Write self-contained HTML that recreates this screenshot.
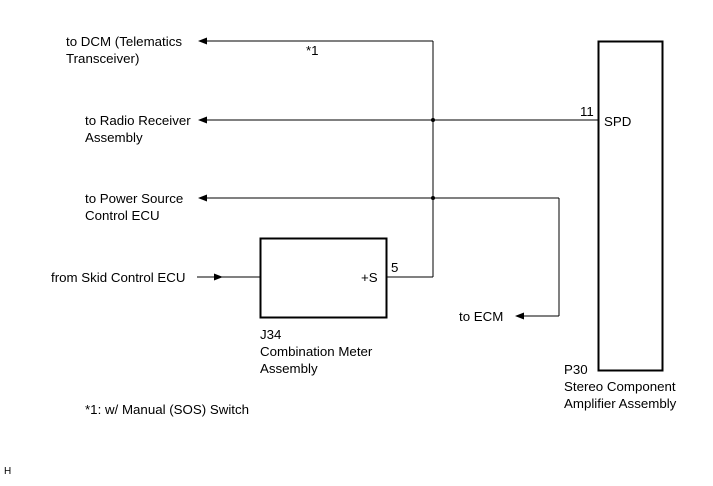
<!DOCTYPE html>
<html><head><style>
body{margin:0;background:#fff;}
svg text{font-family:"Liberation Sans",sans-serif;font-size:13.3px;fill:#000;}
</style></head><body>
<svg width="713" height="481" viewBox="0 0 713 481" xmlns="http://www.w3.org/2000/svg">
<g stroke="#000" stroke-width="1" fill="none">
<line x1="205" y1="41" x2="433" y2="41"/>
<line x1="433" y1="41" x2="433" y2="277"/>
<line x1="205" y1="120" x2="598" y2="120"/>
<line x1="205" y1="198" x2="559" y2="198"/>
<line x1="559" y1="198" x2="559" y2="316"/>
<line x1="522" y1="316" x2="559" y2="316"/>
<line x1="386" y1="277" x2="433" y2="277"/>
<line x1="197" y1="277" x2="260" y2="277"/>
</g>
<rect x="260.5" y="238.5" width="126" height="79" fill="none" stroke="#000" stroke-width="2"/>
<rect x="598.5" y="41.5" width="64" height="329" fill="none" stroke="#000" stroke-width="2"/>
<g fill="#000">
<polygon points="198,41 207,37.5 207,44.5"/>
<polygon points="198,120 207,116.5 207,123.5"/>
<polygon points="198,198 207,194.5 207,201.5"/>
<polygon points="515,316 524,312.5 524,319.5"/>
<polygon points="223,277 214,273.5 214,280.5"/>
<circle cx="433" cy="120" r="2"/>
<circle cx="433" cy="198" r="2"/>
</g>
<text x="66" y="46">to DCM (Telematics</text>
<text x="66" y="63">Transceiver)</text>
<text x="306" y="55">*1</text>
<text x="85" y="125">to Radio Receiver</text>
<text x="85" y="142">Assembly</text>
<text x="85" y="203">to Power Source</text>
<text x="85" y="220">Control ECU</text>
<text x="51" y="282">from Skid Control ECU</text>
<text x="361" y="282">+S</text>
<text x="391" y="272">5</text>
<text x="459" y="321">to ECM</text>
<text x="580" y="116">11</text>
<text x="604" y="126">SPD</text>
<text x="260" y="339">J34</text>
<text x="260" y="356">Combination Meter</text>
<text x="260" y="373">Assembly</text>
<text x="564" y="374">P30</text>
<text x="564" y="391">Stereo Component</text>
<text x="564" y="408">Amplifier Assembly</text>
<text x="85" y="414">*1: w/ Manual (SOS) Switch</text>
<text x="4" y="474" style="font-size:10px">H</text>
</svg>
</body></html>
